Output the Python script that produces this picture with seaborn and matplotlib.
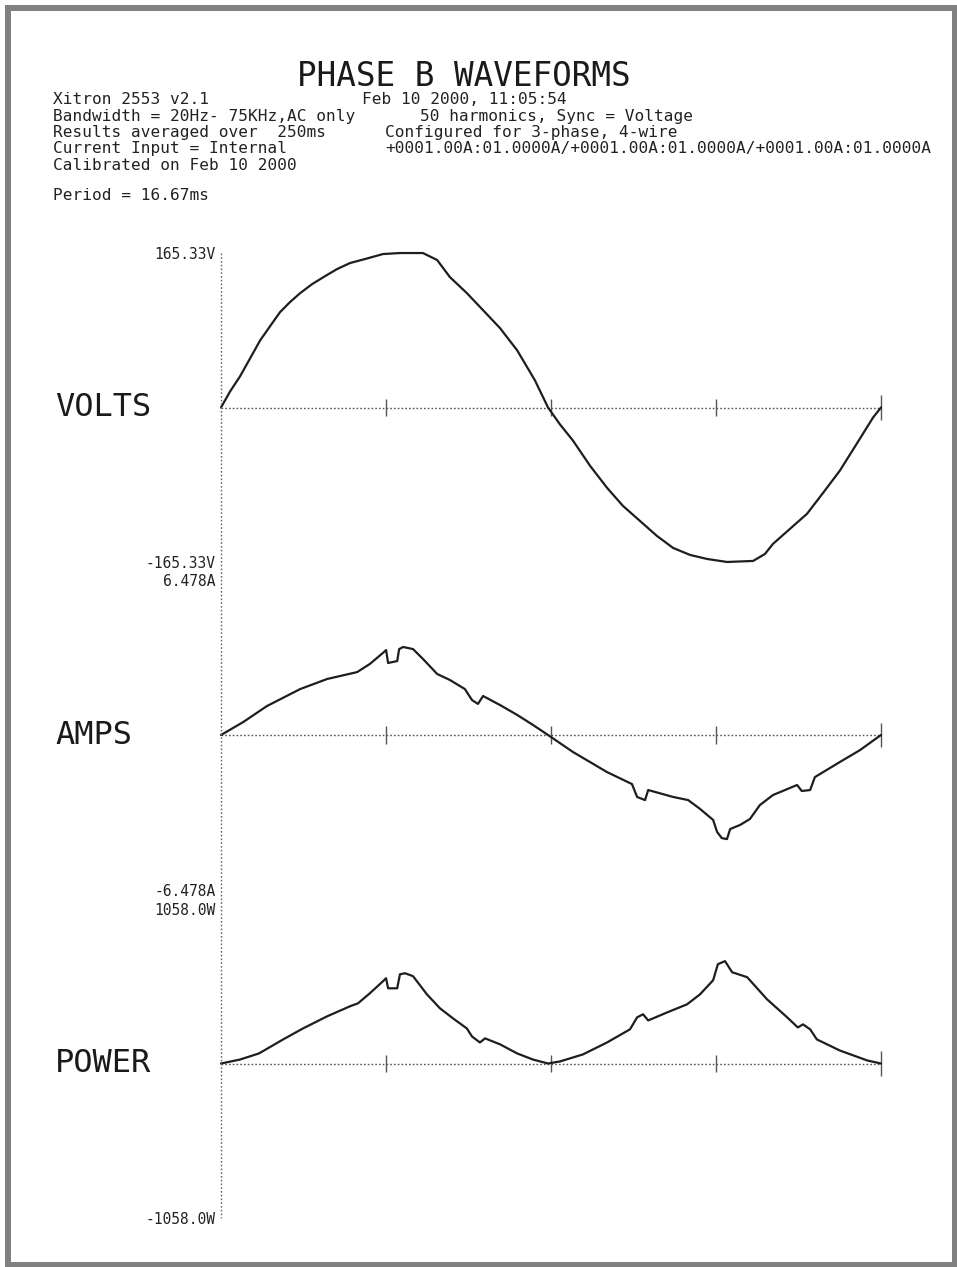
import numpy as np
import pandas as pd
import matplotlib.pyplot as plt
import seaborn as sns
from matplotlib.lines import Line2D
from matplotlib.patches import Rectangle

sns.set_theme(style="white")
plt.rcParams['font.family'] = ['DejaVu Sans Mono']

# Waveform data (time in ms)
period = 16.67

time_v = [0.00, 0.23, 0.48, 0.99, 1.24, 1.49, 1.74, 2.00, 2.30, 2.63, 2.93, 3.26, 3.64,
          4.09, 4.52, 5.10, 5.46, 5.78, 6.21, 6.62, 7.05, 7.48, 7.93, 8.26, 8.56, 8.89,
          9.32, 9.75, 10.15, 10.58, 11.01, 11.42, 11.85, 12.28, 12.78, 13.44, 13.74, 13.94,
          14.37, 14.80, 15.21, 15.63, 16.06, 16.47, 16.67]
volts = [0, 17.2, 33.3, 71.9, 87.0, 102.0, 112.7, 122.4, 132.0, 140.6, 148.1, 154.6, 158.9,
         164.2, 165.3, 165.3, 157.8, 139.6, 122.4, 104.1, 84.8, 61.2, 29.0, 0, -18.0, -35.4,
         -62.3, -85.9, -105.2, -121.3, -137.4, -150.3, -157.8, -162.1, -165.3, -164.2, -156.7,
         -146.0, -129.9, -113.8, -91.2, -67.6, -38.6, -10.7, 0]

time_a = [0.00, 0.56, 1.16, 2.00, 2.68, 3.44, 3.76, 4.09, 4.17, 4.22, 4.45, 4.50, 4.60,
          4.85, 5.10, 5.46, 5.78, 6.16, 6.34, 6.49, 6.62, 7.05, 7.48, 7.88, 8.26, 8.89,
          9.75, 10.38, 10.51, 10.71, 10.79, 11.42, 11.80, 12.10, 12.43, 12.53, 12.65, 12.78,
          12.86, 13.11, 13.36, 13.61, 13.94, 14.55, 14.67, 14.88, 15.00, 15.63, 16.14, 16.67]
amps = [0, 0.54, 1.21, 1.92, 2.34, 2.63, 2.97, 3.43, 3.55, 3.01, 3.09, 3.59, 3.68,
        3.59, 3.18, 2.55, 2.30, 1.92, 1.46, 1.30, 1.63, 1.25, 0.84, 0.42, 0, -0.71,
        -1.55, -2.05, -2.59, -2.72, -2.30, -2.59, -2.72, -3.09, -3.55, -4.05, -4.31, -4.35,
        -3.93, -3.76, -3.51, -2.93, -2.51, -2.09, -2.34, -2.30, -1.76, -1.13, -0.63, 0]

time_p = [0.00, 0.48, 0.96, 1.57, 2.07, 2.68, 3.26, 3.46, 3.76, 4.09, 4.17, 4.22, 4.45,
          4.52, 4.65, 4.85, 5.20, 5.53, 5.86, 6.21, 6.34, 6.54, 6.67, 7.05, 7.48, 7.88,
          8.26, 8.56, 9.14, 9.75, 10.33, 10.51, 10.66, 10.79, 11.27, 11.77, 12.10, 12.43,
          12.55, 12.73, 12.91, 13.29, 13.79, 14.30, 14.57, 14.70, 14.88, 15.05, 15.63,
          16.32, 16.67]
power = [0, 27, 69, 165, 240, 323, 392, 412, 481, 563, 584, 515, 515,
         611, 618, 598, 474, 378, 309, 240, 185, 144, 172, 131, 69, 27,
         0, 14, 62, 144, 234, 316, 337, 295, 350, 405, 474, 570,
         680, 701, 625, 591, 440, 316, 247, 268, 234, 165, 89,
         21, 0]

names = ["VOLTS", "AMPS", "POWER"]
full_scale = [165.33, 6.478, 1058.0]
scale_labels = [["-165.33V", "165.33V"], ["-6.478A", "6.478A"], ["-1058.0W", "1058.0W"]]

header_left = ["Xitron 2553 v2.1",
               "Bandwidth = 20Hz- 75KHz,AC only",
               "Results averaged over  250ms",
               "Current Input = Internal",
               "Calibrated on Feb 10 2000"]

W, H = 957, 1267
fig = plt.figure(figsize=(W / 100, H / 100), dpi=100)


def fx(px):
    return px / W


def fy(py):
    return 1 - py / H


# panel extents in pixels (top, bottom)
panel_px = [(253, 562), (580, 890), (909, 1218)]
x0, x1 = 221, 881
quarters = np.linspace(0, period, 5)
hdr = 11.6

series = [(time_v, volts), (time_a, amps), (time_p, power)]
for (t, v), name, ymax, labs, (top, bot) in zip(series, names, full_scale, scale_labels, panel_px):
    ax = fig.add_axes([fx(x0), fy(bot), (x1 - x0) / W, (bot - top) / H])
    ax.patch.set_alpha(0)
    df = pd.DataFrame({"t": t, "v": v})
    ax.axhline(0, color="#555555", ls=(0, (1.2, 1.5)), lw=1)
    ax.vlines(quarters[1:-1], -0.055 * ymax, 0.055 * ymax, color="#555555", lw=1, clip_on=False)
    ax.vlines(quarters[-1:], -0.08 * ymax, 0.08 * ymax, color="#555555", lw=1, clip_on=False)
    sns.lineplot(data=df, x="t", y="v", ax=ax, color="#1e1e1e", lw=1.6,
                 sort=False, estimator=None, clip_on=False)
    ax.set_xlim(0, period)
    ax.set_ylim(-ymax, ymax)
    ax.set_xticks([])
    ax.set_yticks([-ymax, ymax])
    ax.set_yticklabels(labs)
    ax.tick_params(axis="y", length=0, pad=4, labelsize=10.5, labelcolor="#222222")
    ax.set_xlabel("")
    ax.set_ylabel("")
    for s in ax.spines.values():
        s.set_visible(False)
    fig.text(fx(55), fy((top + bot) / 2), name, fontsize=23, va="center", ha="left",
             color="#1a1a1a")

# continuous dotted vertical axis
fig.add_artist(Line2D([fx(x0), fx(x0)], [fy(253), fy(1218)], transform=fig.transFigure,
                      color="#666666", lw=1, ls=(0, (1.2, 1.5))))

# header
fig.text(fx(297), fy(76), "PHASE B WAVEFORMS", fontsize=23.5, va="center", color="#1a1a1a")
for i, line in enumerate(header_left):
    fig.text(fx(53), fy(100 + i * 16.3), line, fontsize=hdr, va="center", color="#222222")
fig.text(fx(362), fy(99), "Feb 10 2000, 11:05:54", fontsize=hdr, va="center", color="#222222")
fig.text(fx(420), fy(116), "50 harmonics, Sync = Voltage", fontsize=hdr, va="center", color="#222222")
fig.text(fx(385), fy(132), "Configured for 3-phase, 4-wire", fontsize=hdr, va="center", color="#222222")
fig.text(fx(385), fy(148), "+0001.00A:01.0000A/+0001.00A:01.0000A/+0001.00A:01.0000A",
         fontsize=hdr, va="center", color="#222222")
fig.text(fx(53), fy(196), "Period = 16.67ms", fontsize=hdr, va="center", color="#222222")

# gray frame
fig.add_artist(Rectangle((fx(8), fy(1265)), (955 - 8) / W, (1265 - 8) / H,
                         transform=fig.transFigure, fill=False, ec="#808080", lw=4.3))

fig.savefig("out.png", dpi=100)
